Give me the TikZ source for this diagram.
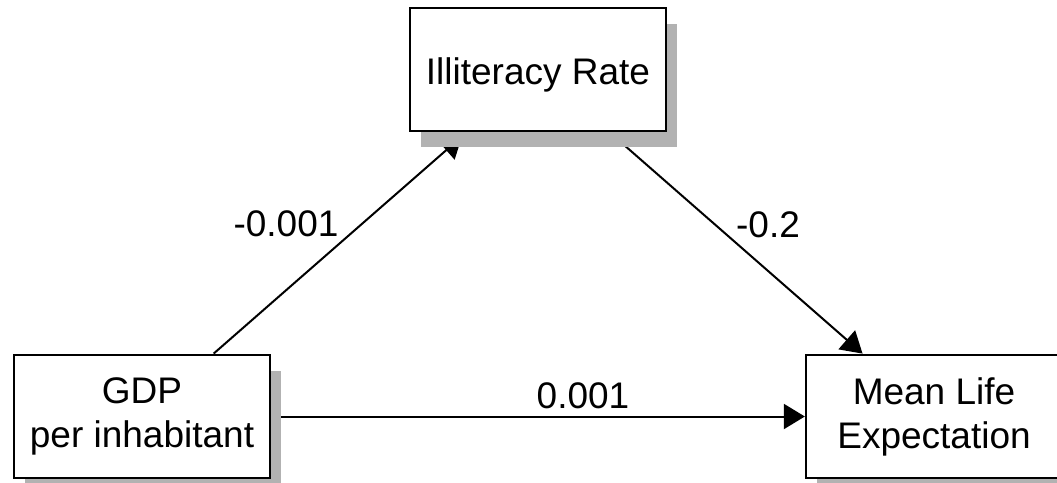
\documentclass[tikz,border=0pt]{standalone}
\usepackage{fontspec}
\setmainfont{Liberation Sans}
\usetikzlibrary{arrows.meta,shadows,backgrounds}
\definecolor{shgray}{RGB}{178,178,178}
\tikzset{
  varbox/.style={draw=black, line width=2.3pt, fill=white, minimum width=256pt, minimum height=123.5pt,
    inner sep=0pt, align=center, font=\fontsize{37}{44}\selectfont,
    execute at begin node={\rule{0pt}{37.5pt}},
    drop shadow={shadow xshift=11pt, shadow yshift=-16pt, fill=shgray, opacity=1}},
  path/.style={line width=2pt, -{Triangle[length=21pt, width=25pt]}},
  coef/.style={font=\fontsize{37}{44}\selectfont, anchor=base, inner sep=0pt}
}
\begin{document}
\begin{tikzpicture}[x=1pt, y=-1pt]
\useasboundingbox (0,0) rectangle (1057,482);
\node[varbox] (gdp) at (142,416.5) {GDP\\per inhabitant};
\node[varbox] (ill) at (538,69.5) {Illiteracy Rate};
\node[varbox] (mean) at (934,416.5) {Mean Life\\Expectation};
\begin{pgfonlayer}{background}
\draw[path, shorten >=6pt] (gdp) -- (ill);
\draw[path] (ill) -- (mean);
\draw[path] (gdp.east) -- (mean.west);
\end{pgfonlayer}
\node[coef] (c1) at (286,236) {-0.001};
\node[coef] (c2) at (768,237) {-0.2};
\node[coef] (c3) at (583,408) {0.001};
\end{tikzpicture}
\end{document}
